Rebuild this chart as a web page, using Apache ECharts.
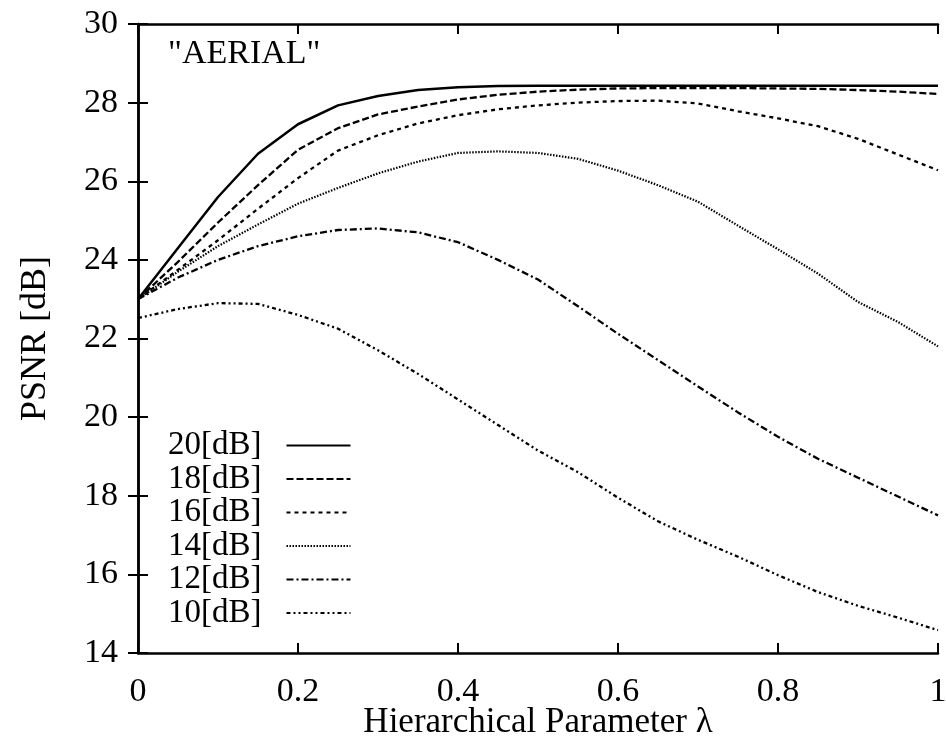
<!DOCTYPE html>
<html>
<head>
<meta charset="utf-8">
<script src="https://cdn.jsdelivr.net/npm/echarts@6/dist/echarts.min.js"></script>
<style>html,body{margin:0;padding:0;background:#fff}#c{width:946px;height:745px}</style>
</head>
<body>
<div id="c"></div>
<script>
const lambdas = [0,0.05,0.1,0.15,0.2,0.25,0.3,0.35,0.4,0.45,0.5,0.55,0.6,0.65,0.7,0.75,0.8,0.85,0.9,0.95,1.0];
const xTicks = [0,0.2,0.4,0.6,0.8,1];
const yTicks = [14,16,18,20,22,24,26,28,30];
const seriesNames = ['20[dB]','18[dB]','16[dB]','14[dB]','12[dB]','10[dB]'];
const psnr20 = [23.0,24.3,25.6,26.7,27.45,27.93,28.17,28.32,28.39,28.42,28.43,28.43,28.43,28.43,28.43,28.43,28.43,28.43,28.43,28.43,28.43];
const psnr18 = [23.0,23.95,24.95,25.9,26.8,27.35,27.7,27.9,28.08,28.2,28.28,28.33,28.36,28.37,28.37,28.37,28.36,28.35,28.32,28.28,28.22];
const psnr16 = [23.0,23.75,24.5,25.3,26.08,26.78,27.17,27.47,27.68,27.83,27.93,28.0,28.04,28.05,27.98,27.78,27.6,27.4,27.08,26.68,26.28];
const psnr14 = [23.0,23.7,24.35,24.9,25.43,25.83,26.2,26.5,26.72,26.76,26.72,26.57,26.27,25.9,25.48,24.87,24.27,23.65,22.93,22.42,21.8];
const psnr12 = [23.0,23.55,24.0,24.35,24.6,24.76,24.8,24.7,24.45,24.0,23.5,22.82,22.12,21.45,20.78,20.12,19.5,18.94,18.46,17.98,17.5];
const psnr10 = [22.52,22.75,22.9,22.88,22.6,22.25,21.7,21.1,20.45,19.8,19.15,18.6,17.95,17.35,16.88,16.45,15.98,15.55,15.2,14.9,14.58];

const allValues = [psnr20,psnr18,psnr16,psnr14,psnr12,psnr10];
const styles = [
  {type:'solid', width:2.5},
  {type:[7,3], width:2.3},
  {type:[4,4], width:2.3},
  {type:[1.5,1.5], width:2.2},
  {type:[7,3,2,3], width:2.3},
  {type:[4,3,2,3,2,3], width:2.3}
];
const font = '"Liberation Serif", "DejaVu Serif", serif';

const series = allValues.map((vals,i)=>({
  name: seriesNames[i],
  type: 'line',
  data: vals.map((v,j)=>[lambdas[j], v]),
  symbol: 'none',
  smooth: false,
  lineStyle: {color:'#000', width: styles[i].width, type: styles[i].type},
  itemStyle: {color:'#000'},
  z: 3
}));

const axisLineStyle = {show:true, lineStyle:{color:'#000', width:2.5}};
const chart = echarts.init(document.getElementById('c'), null, {renderer:'canvas'});
chart.setOption({
  animation: false,
  backgroundColor: '#fff',
  title: {
    text: '"AERIAL"', left: 163, top: 32,
    textStyle: {fontFamily: font, fontSize: 34, fontWeight: 'normal', color:'#000'}
  },
  legend: {
    orient: 'vertical', left: 163, top: 424, align: 'right',
    itemWidth: 64, itemHeight: 14, itemGap: 0.5,
    data: seriesNames,
    itemStyle: {opacity: 0},
    textStyle: {fontFamily: font, fontSize: 33, color:'#000', lineHeight: 32, padding:[0,20,0,0]}
  },
  grid: {left: 138, right: 8, top: 24, bottom: 92, containLabel: false, outerBoundsMode: 'none'},
  xAxis: [{
    type: 'value', min: 0, max: 1, interval: 0.2,
    name: 'Hierarchical Parameter λ', nameLocation: 'middle', nameGap: 52,
    nameMoveOverlap: false,
    nameTextStyle: {fontFamily: font, fontSize: 35, color:'#000'},
    axisLine: axisLineStyle,
    axisTick: {show:true, inside:true, length:10, lineStyle:{color:'#000', width:2}},
    axisLabel: {fontFamily: font, fontSize: 34, color:'#000', margin: 22,
      customValues: xTicks},
    splitLine: {show:false}
  },{
    type: 'value', position: 'top', min: 0, max: 1, interval: 0.2,
    axisLine: axisLineStyle,
    axisTick: {show:true, inside:true, length:10, lineStyle:{color:'#000', width:2}},
    axisLabel: {show:false}, splitLine:{show:false}
  }],
  yAxis: [{
    type: 'value', min: 14, max: 30, interval: 2,
    name: 'PSNR [dB]', nameLocation: 'middle', nameGap: 84, nameRotate: 90,
    nameMoveOverlap: false,
    nameTextStyle: {fontFamily: font, fontSize: 36, color:'#000'},
    axisLine: axisLineStyle,
    axisTick: {show:true, inside:true, length:10, lineStyle:{color:'#000', width:2}},
    axisLabel: {fontFamily: font, fontSize: 34, color:'#000', margin: 20,
      customValues: yTicks},
    splitLine: {show:false}
  },{
    type: 'value', position: 'right', min: 14, max: 30, interval: 2,
    axisLine: axisLineStyle,
    axisTick: {show:true, inside:true, length:10, lineStyle:{color:'#000', width:2}},
    axisLabel: {show:false}, splitLine:{show:false}
  }],
  series: series
});
</script>
</body>
</html>
